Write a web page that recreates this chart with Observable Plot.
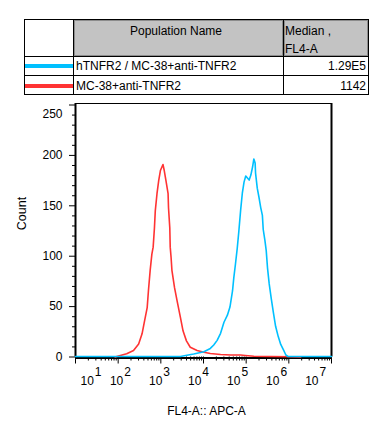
<!DOCTYPE html>
<html>
<head>
<meta charset="utf-8">
<script src="https://cdn.jsdelivr.net/npm/d3@7"></script>
<script src="https://cdn.jsdelivr.net/npm/@observablehq/plot@0.6"></script>
<style>
  html, body { margin: 0; padding: 0; background: #fff; }
  #wrap { width: 381px; font-family: "Liberation Sans", Arial, sans-serif; font-size: 12px; color: #000; }
  #legend { position: relative; width: 381px; height: 94px; }
  #legend div { position: absolute; box-sizing: border-box; }
  #legend .t { line-height: 14px; white-space: nowrap; }
  svg { display: block; }
</style>
</head>
<body>
<div id="wrap">
  <div id="legend"></div>
  <div id="chart"></div>
</div>
<script>
// ---- data ----
const populations = ["hTNFR2 / MC-38+anti-TNFR2", "MC-38+anti-TNFR2"];
const medians = ["1.29E5", "1142"];
const seriesColors = ["#00c0ff", "#ff3333"];
const headerName = "Population Name";
const headerStat = ["Median ,", "FL4-A"];

// log10(FL4-A) and counts
const redLog = [1.93, 2.05, 2.20, 2.36, 2.48, 2.56, 2.62, 2.68, 2.71, 2.75, 2.79, 2.82, 2.85, 2.87, 2.91, 2.95, 2.99, 3.05, 3.08, 3.12, 3.17, 3.18, 3.21, 3.22, 3.24, 3.26, 3.32, 3.38, 3.46, 3.52, 3.60, 3.69, 3.85, 4.01, 4.16, 4.40, 4.64, 4.87, 4.98, 5.18, 5.58, 6.05, 6.28];
const redCount = [0, 1.5, 3.2, 6.4, 13, 23, 36, 49, 66, 86, 102, 109, 128, 145, 162, 175, 185, 191, 185, 175, 162, 148, 128, 109, 99, 86, 69, 56, 39, 26, 16, 9.7, 6.4, 4.8, 3.5, 2.5, 2, 2, 1.5, 0.7, 0.5, 0.3, 0];

const blueLog = [1.0, 3.46, 3.58, 3.77, 4.01, 4.16, 4.24, 4.32, 4.40, 4.48, 4.56, 4.62, 4.68, 4.71, 4.75, 4.79, 4.83, 4.87, 4.91, 4.95, 4.99, 5.03, 5.07, 5.11, 5.15, 5.18, 5.21, 5.22, 5.26, 5.30, 5.34, 5.38, 5.40, 5.44, 5.47, 5.50, 5.54, 5.59, 5.64, 5.69, 5.75, 5.81, 5.88, 5.93, 5.98, 7.0];
const blueCount = [0, 0, 1, 2.5, 4.8, 8, 11.4, 16, 23, 34, 41, 49, 65, 78, 92, 107, 125, 145, 162, 173, 179, 177, 175, 180, 188, 196, 192, 182, 167, 158, 148, 140, 126, 115, 105, 88, 72, 57, 43, 30, 20, 12, 6, 1.5, 0, 0];

const yMajor = [0, 50, 100, 150, 200, 250];
const yMax = 251.5;
const xDecades = [1, 2, 3, 4, 5, 6, 7];
const xTitle = "FL4-A:: APC-A";
const yTitle = "Count";

// ---- legend table (HTML above the svg) ----
const lg = document.getElementById("legend");
function box(style, cls, text) {
  const d = document.createElement("div");
  if (cls) d.className = cls;
  Object.assign(d.style, style);
  if (text != null) d.textContent = text;
  lg.appendChild(d);
  return d;
}
// header gray cells
box({left: "74px", top: "20px", width: "209px", height: "36px", background: "#c3c3c3", border: "1px solid #8c8c8c"});
box({left: "284px", top: "20px", width: "84px", height: "36px", background: "#c3c3c3", border: "1px solid #8c8c8c"});
// outer border
box({left: "24px", top: "19px", width: "345px", height: "76px", border: "1px solid #000"});
// grid lines
box({left: "73px", top: "19px", width: "1px", height: "76px", background: "#000"});
box({left: "283px", top: "19px", width: "1px", height: "76px", background: "#000"});
box({left: "24px", top: "56px", width: "345px", height: "1px", background: "#000"});
box({left: "24px", top: "75px", width: "345px", height: "1px", background: "#000"});
// legend swatches
const rowCenters = [66, 85.5];
populations.forEach((p, i) => {
  box({left: "25px", top: (rowCenters[i] - 2) + "px", width: "48px", height: "4px", background: seriesColors[i]});
  box({left: "76px", top: (rowCenters[i] - 7) + "px"}, "t", p);
  box({left: "285px", top: (rowCenters[i] - 7) + "px", width: "81px", textAlign: "right"}, "t", medians[i]);
});
box({left: "72px", top: "24px", width: "208px", textAlign: "center"}, "t", headerName);
box({left: "285px", top: "24px"}, "t", headerStat[0]);
box({left: "285px", top: "42px"}, "t", headerStat[1]);

// ---- chart ----
const red = redLog.map((e, i) => ({e, c: redCount[i]}));
const blue = blueLog.map((e, i) => ({e, c: blueCount[i]}));
const xMinor = [];
for (let k = 1; k < 7; k++) for (let m = 2; m <= 9; m++) xMinor.push(m * 10 ** k);
const yMinor = d3.range(0, 251, 10).filter(v => v % 50 !== 0);
// FlowJo spreads the decade labels slightly tighter than the ticks
const labelExp = k => Math.max(1.43, 2.12 + (k - 2) * 0.915);

const font = "'Liberation Sans', Arial, sans-serif";
const chart = Plot.plot({
  width: 381,
  height: 349,
  marginTop: 9,
  marginLeft: 75,
  marginRight: 50,
  marginBottom: 86.5,
  style: {fontFamily: font, fontSize: "12px", background: "#fff", color: "#000"},
  x: {type: "log", domain: [10, 1e7], axis: null},
  y: {domain: [0, yMax], axis: null},
  marks: [
    // ticks
    Plot.axisX(xMinor, {anchor: "bottom", tickSize: 4, tickFormat: () => "", label: null}),
    Plot.axisX(xDecades.map(k => 10 ** k), {anchor: "bottom", tickSize: 7, tickFormat: () => "", label: null}),
    Plot.axisY(yMinor, {anchor: "left", tickSize: 3, tickFormat: () => "", label: null}),
    Plot.axisY(yMajor, {anchor: "left", tickSize: 6, tickPadding: 7, fontSize: 12, tickFormat: d => d === 250 ? "" : String(d), label: null}),
    Plot.text([250], {y: d => d, frameAnchor: "left", text: d => String(d), textAnchor: "end", dx: -13, dy: 9, fontSize: 12}),
    // x decade labels
    Plot.text(xDecades, {x: k => 10 ** labelExp(k), y: 0, text: () => "10", textAnchor: "end", dy: 24.5, fontSize: 12}),
    Plot.text(xDecades, {x: k => 10 ** labelExp(k), y: 0, text: k => String(k), textAnchor: "start", dx: 1, dy: 15.5, fontSize: 12}),
    // titles
    Plot.text([yTitle], {frameAnchor: "left", text: d => d, rotate: -90, dx: -54, fontSize: 12.5}),
    Plot.text([xTitle], {frameAnchor: "bottom", text: d => d, dx: 3, dy: 57.5, fontSize: 12}),
    // frame
    Plot.ruleY([yMax], {stroke: "#000", strokeWidth: 1}),
    Plot.ruleX([10, 1e7], {stroke: "#000", strokeWidth: 2}),
    Plot.ruleY([0], {stroke: "#000", strokeWidth: 2, dy: 1}),
    // histograms (drawn over the frame, as in FlowJo)
    Plot.line(red, {x: d => 10 ** d.e, y: "c", stroke: seriesColors[1], strokeWidth: 1.6}),
    Plot.line(blue, {x: d => 10 ** d.e, y: "c", stroke: seriesColors[0], strokeWidth: 1.6, dy: -0.5})
  ]
});
document.getElementById("chart").appendChild(chart);
</script>
</body>
</html>
